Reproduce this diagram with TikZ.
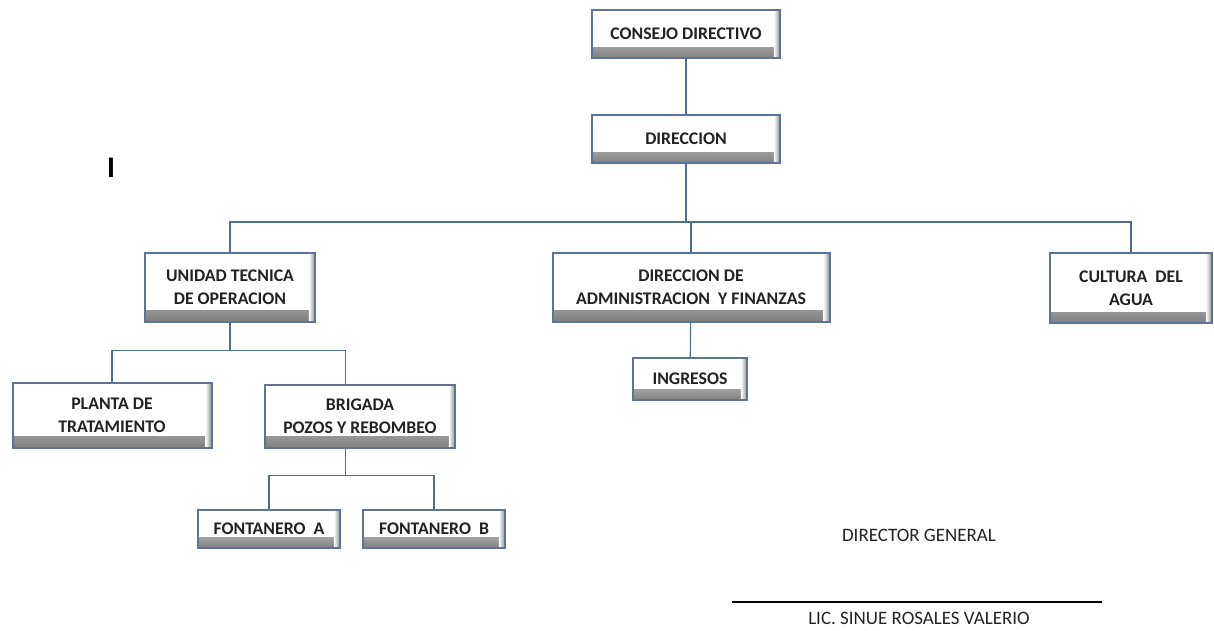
\documentclass[tikz,border=0pt]{standalone}
\usepackage{fontspec}
\setmainfont{Carlito}
\definecolor{boxedge}{HTML}{5E7494}
\definecolor{connline}{HTML}{4F6C94}
\definecolor{inktext}{HTML}{222222}
\begin{document}
\begin{tikzpicture}[x=0.02cm, y=-0.02cm, font=\fontsize{10.1}{13}\selectfont\bfseries, text=inktext]
            \def\pxu{0.02cm}
            \tikzset{orgbox/.style={rectangle, draw=boxedge, line width=2*\pxu, fill=white, align=center, inner sep=0pt,
                path picture={
                  \shade[top color=white, bottom color=black!50] ([yshift=6pt]path picture bounding box.south west) rectangle (path picture bounding box.south east);
                  \shade[left color=white, right color=black!45] ([xshift=-3.5pt]path picture bounding box.north east) rectangle (path picture bounding box.south east);
                }},
              conn/.style={draw=connline, line width=1.1*\pxu},
              plain/.style={font=\fontsize{10.8}{12}\selectfont}}
        \useasboundingbox (0,0) rectangle (1214,630);

        \node[orgbox, minimum width=188*\pxu, minimum height=48*\pxu] (CD) at (686,34) {CONSEJO DIRECTIVO};
        \node[orgbox, minimum width=188*\pxu, minimum height=48*\pxu] (DIR) at (686,139) {DIRECCION};

        \node[orgbox, minimum width=170*\pxu, minimum height=69*\pxu] (UT) at (230,287) {UNIDAD TECNICA\\DE OPERACION};
        \node[orgbox, minimum width=277*\pxu, minimum height=69*\pxu] (DAF) at (691,287) {DIRECCION DE\\ADMINISTRACION \ Y FINANZAS};
        \node[orgbox, minimum width=162*\pxu, minimum height=70*\pxu] (CA) at (1131,288) {CULTURA \ DEL\\AGUA};

        \node[orgbox, minimum width=199*\pxu, minimum height=65*\pxu] (PT) at (112,415) {PLANTA DE\\TRATAMIENTO};
        \node[orgbox, minimum width=190*\pxu, minimum height=63*\pxu] (BR) at (360,416) {BRIGADA\\POZOS Y REBOMBEO};
        \node[orgbox, minimum width=114*\pxu, minimum height=42*\pxu] (ING) at (690,379) {INGRESOS};

        \node[orgbox, minimum width=142*\pxu, minimum height=38*\pxu] (FA) at (269,529) {FONTANERO \ A};
        \node[orgbox, minimum width=142*\pxu, minimum height=38*\pxu] (FB) at (434,529) {FONTANERO \ B};

        \draw[conn] (CD) -- (DIR);
        \draw[conn] (DIR.south) -- ++(0,58) coordinate (bus1);
        \draw[conn] (bus1) -| (UT.north);
        \draw[conn] (bus1) -| (DAF.north);
        \draw[conn] (bus1) -| (CA.north);
        \draw[conn] (DAF) -- (ING);

        \draw[conn] (UT.south) -- ++(0,28) coordinate (bus2);
        \draw[conn] (bus2) -| (PT.north);
        \draw[conn] (bus2) -| ([xshift=-8.5pt]BR.north);

        \draw[conn] ([xshift=-8.5pt]BR.south) -- ++(0,27) coordinate (bus3);
        \draw[conn] (bus3) -| (FA.north);
        \draw[conn] (bus3) -| (FB.north);

        \node[font=\fontsize{17}{17}\selectfont\bfseries, text=black] (mark) at (111,168) {I};

        \node[plain] (dg) at (919,535) {DIRECTOR GENERAL};
        \draw[line width=2*\pxu] (732,602) -- (1102,602);
        \node[plain] (lic) at (919,618) {LIC. SINUE ROSALES VALERIO};

        \end{tikzpicture}
\end{document}
